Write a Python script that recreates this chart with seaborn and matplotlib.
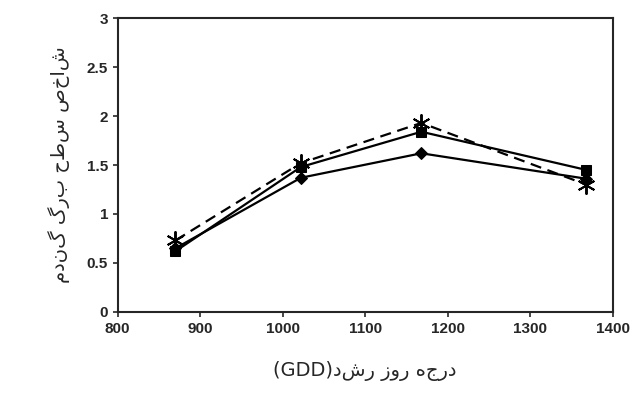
import pandas as pd
import matplotlib
matplotlib.use("Agg")
import matplotlib.pyplot as plt
import seaborn as sns

gdd = [870, 1022, 1168, 1368]
diamond = [0.65, 1.37, 1.62, 1.36]
square = [0.62, 1.48, 1.84, 1.45]
star = [0.73, 1.52, 1.93, 1.30]

xlabel = "درجه روز رشد(GDD)"
ylabel = "شاخص سطح برگ گندم"


def rtl(s):
    # matplotlib draws left to right, so flip the Persian part
    if "(" in s:
        fa, rest = s.split("(", 1)
        return "(" + rest + fa[::-1]
    return s[::-1]


sns.set_style("ticks")
plt.rcParams["font.family"] = ["Liberation Sans", "DejaVu Sans"]

fig = plt.figure(figsize=(6.33, 4.04), dpi=100)
ax = fig.add_axes([0.186, 0.228, 0.782, 0.727])

df = pd.DataFrame({"gdd": gdd * 3,
                   "lai": diamond + square + star,
                   "s": ["d"] * 4 + ["s"] * 4 + ["*"] * 4})

common = dict(ax=ax, color="black", linewidth=1.6, markeredgecolor="black")
sns.lineplot(data=df[df.s == "d"], x="gdd", y="lai", marker="D", markersize=6, **common)
sns.lineplot(data=df[df.s == "s"], x="gdd", y="lai", marker="s", markersize=7, **common)
sns.lineplot(data=df[df.s == "*"], x="gdd", y="lai", marker=(6, 2, 0), markersize=13,
             linestyle=(0, (5, 3)), markeredgewidth=1.4, **{k: v for k, v in common.items()})

ax.set_xlim(800, 1400)
ax.set_ylim(0, 3)
ax.set_xticks(range(800, 1401, 100))
ax.set_yticks([0, 0.5, 1, 1.5, 2, 2.5, 3])
ax.set_yticklabels(["0", "0.5", "1", "1.5", "2", "2.5", "3"])
ax.tick_params(labelsize=11, direction="out", width=1.2)
for lab in ax.get_xticklabels() + ax.get_yticklabels():
    lab.set_fontweight("bold")
for sp in ax.spines.values():
    sp.set_linewidth(1.5)
    sp.set_visible(True)

ax.set_xlabel(rtl(xlabel), fontsize=14, labelpad=18, family=["DejaVu Sans"])
ax.set_ylabel(rtl(ylabel), fontsize=14, labelpad=12, family=["DejaVu Sans"])

fig.savefig("out.png", dpi=100)
